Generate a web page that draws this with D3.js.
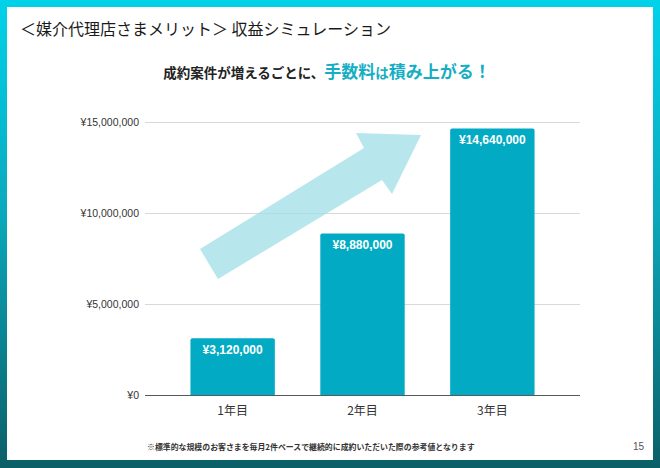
<!DOCTYPE html>
<html>
<head>
<meta charset="utf-8">
<script src="https://cdn.jsdelivr.net/npm/d3@7"></script>
<style>
  html, body { margin: 0; padding: 0; background: #fff; }
  svg { display: block; }
</style>
</head>
<body>
<script>
// ---- data ----
const categories = ["1年目", "2年目", "3年目"];
const revenue = [3120000, 8880000, 14640000];
const yTicks = [0, 5000000, 10000000, 15000000];
const yTickLabels = ["¥0", "¥5,000,000", "¥10,000,000", "¥15,000,000"];
const barLabels = ["¥3,120,000", "¥8,880,000", "¥14,640,000"];
const titleText = "＜媒介代理店さまメリット＞ 収益シミュレーション";
const subtitleParts = [
  { t: "成約案件が増えるごとに、", c: "#222", s: 13.5 },
  { t: "手数料", c: "#17aec4", s: 17 },
  { t: "は", c: "#17aec4", s: 13.5 },
  { t: "積み上がる！", c: "#17aec4", s: 17 }
];
const footnote = "※標準的な規模のお客さまを毎月2件ペースで継続的に成約いただいた際の参考値となります";
const pageNumber = "15";

(function () {
const W = 660, H = 468;
const jp = "'Noto Sans CJK JP', 'Noto Sans', sans-serif";
const num = "'Liberation Sans', Arial, sans-serif";

const svg = d3.select("body").append("svg").attr("width", W).attr("height", H);

// border gradient
const defs = svg.append("defs");
const grad = defs.append("linearGradient").attr("id", "bg").attr("x1", 0).attr("y1", 0).attr("x2", 0).attr("y2", 1);
grad.append("stop").attr("offset", "0%").attr("stop-color", "#00d2ea");
grad.append("stop").attr("offset", "45%").attr("stop-color", "#0aa9bd");
grad.append("stop").attr("offset", "100%").attr("stop-color", "#0b5f67");
svg.append("rect").attr("width", W).attr("height", H).attr("fill", "url(#bg)");
svg.append("rect").attr("x", 7).attr("y", 7).attr("width", 646).attr("height", 453).attr("fill", "#fff");

// title
svg.append("text").attr("x", 20).attr("y", 35)
  .attr("font-family", jp).attr("font-size", 16).attr("fill", "#1a1a1a")
  .text(titleText);

// subtitle
const sub = svg.append("text").attr("x", 327).attr("y", 78)
  .attr("text-anchor", "middle").attr("font-family", jp).attr("font-weight", "bold");
subtitleParts.forEach(p => sub.append("tspan").attr("fill", p.c).attr("font-size", p.s).text(p.t));

// scales
const pLeft = 145, pRight = 580, pTop = 122, pBottom = 395;
const x = d3.scaleBand().domain(categories).range([pLeft, pRight]).padding(0.35);
const y = d3.scaleLinear().domain([0, 15000000]).range([pBottom, pTop]);

// gridlines
const yAxis = d3.axisLeft(y).tickValues(yTicks).tickSize(-(pRight - pLeft)).tickPadding(6)
  .tickFormat((d, i) => yTickLabels[i]);
const gy = svg.append("g").attr("transform", `translate(${pLeft},0)`).call(yAxis);
gy.select(".domain").remove();
gy.selectAll(".tick line").attr("stroke", "#d9d9d9").attr("stroke-width", 1);
gy.selectAll(".tick text").attr("font-family", num).attr("font-size", 10.5).attr("fill", "#333");

// decorative arrow (behind bars)
const arrowPts = [[200, 249], [364, 148], [356, 133], [421, 135], [392, 194], [382, 180], [218, 279]];
svg.append("path")
  .attr("d", d3.line()(arrowPts) + "Z")
  .attr("fill", "#9fdde6").attr("fill-opacity", 0.75);

// bars with slightly rounded top corners
const r = 2;
svg.append("g").selectAll("path").data(revenue).join("path")
  .attr("fill", "#02abc3")
  .attr("d", (d, i) => {
    const x0 = x(categories[i]), w = x.bandwidth(), y0 = y(d), y1 = y(0);
    return `M${x0},${y1}V${y0 + r}Q${x0},${y0} ${x0 + r},${y0}H${x0 + w - r}Q${x0 + w},${y0} ${x0 + w},${y0 + r}V${y1}Z`;
  });

// bar labels
svg.append("g").selectAll("text").data(revenue).join("text")
  .attr("x", (d, i) => x(categories[i]) + x.bandwidth() / 2)
  .attr("y", d => y(d) + 15.5)
  .attr("text-anchor", "middle")
  .attr("font-family", num).attr("font-weight", "bold").attr("font-size", 12).attr("fill", "#fff")
  .text((d, i) => barLabels[i]);

// x axis
const xAxis = d3.axisBottom(x).tickSize(0).tickPadding(11);
const gx = svg.append("g").attr("transform", `translate(0,${pBottom})`).call(xAxis);
gx.select(".domain").attr("d", `M${pLeft},0.5H${pRight}`).attr("stroke", "#595959").attr("stroke-width", 1.2);
gx.selectAll(".tick text").attr("font-family", jp).attr("font-size", 12).attr("fill", "#333");

// footnote
svg.append("text").attr("x", 147).attr("y", 450)
  .attr("font-family", jp).attr("font-weight", "bold").attr("font-size", 7.9).attr("fill", "#333")
  .text(footnote);

svg.append("text").attr("x", 644).attr("y", 450).attr("text-anchor", "end")
  .attr("font-family", num).attr("font-size", 10).attr("fill", "#555")
  .text(pageNumber);
})();
</script>
</body>
</html>
